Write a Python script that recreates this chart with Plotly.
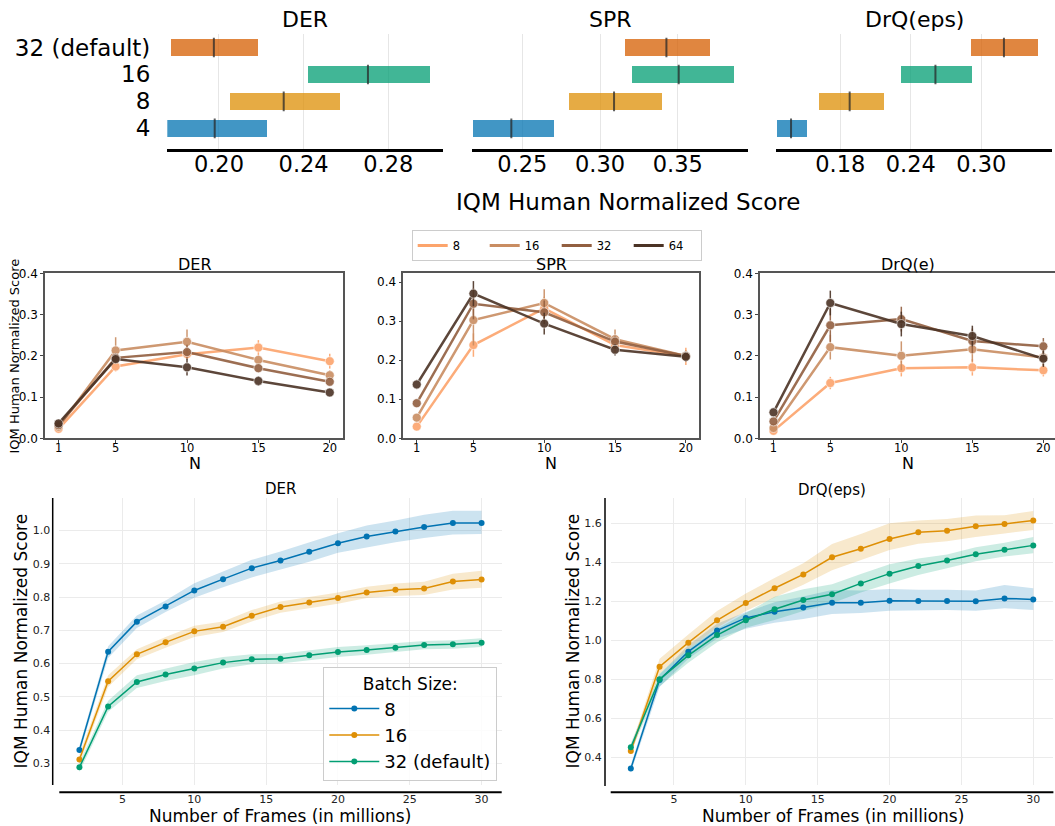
import plotly.graph_objects as go

W, H = 1055, 826

# ---------------- data ----------------
# Top row: IQM intervals per batch size
batch_labels = ["32 (default)", "16", "8", "4"]
bar_colors = ["rgba(213,94,0,0.75)", "rgba(2,158,115,0.75)", "rgba(222,143,5,0.75)", "rgba(1,115,178,0.75)"]
der_lo = [0.1776, 0.2420, 0.2052, 0.1757]
der_hi = [0.2184, 0.2997, 0.2572, 0.2230]
der_med = [0.1976, 0.2704, 0.2306, 0.1980]
spr_lo = [0.3161, 0.3206, 0.2801, 0.2182]
spr_hi = [0.3708, 0.3862, 0.3399, 0.2704]
spr_med = [0.3427, 0.3506, 0.3090, 0.2429]
drq_lo = [0.2912, 0.2318, 0.1619, 0.1261]
drq_hi = [0.3483, 0.2922, 0.2172, 0.1516]
drq_med = [0.3193, 0.2610, 0.1880, 0.1381]
top_ticks_der = [0.20, 0.24, 0.28]
top_ticks_spr = [0.25, 0.30, 0.35]
top_ticks_drq = [0.18, 0.24, 0.30]

# Middle row: score vs N
Ns = [1, 5, 10, 15, 20]
mid_names = ["8", "16", "32", "64"]
mid_colors = ["#FCA46C", "#C98D62", "#925F40", "#4B3325"]
der_mid = [
    [0.023, 0.174, 0.204, 0.220, 0.187],
    [0.028, 0.213, 0.234, 0.190, 0.153],
    [0.032, 0.195, 0.209, 0.170, 0.137],
    [0.036, 0.192, 0.172, 0.139, 0.111],
]
der_mid_err = [
    [0.006, 0.012, 0.012, 0.018, 0.018],
    [0.005, 0.032, 0.030, 0.012, 0.012],
    [0.005, 0.012, 0.018, 0.010, 0.010],
    [0.005, 0.010, 0.020, 0.012, 0.008],
]
spr_mid = [
    [0.030, 0.239, 0.333, 0.239, 0.210],
    [0.053, 0.303, 0.347, 0.254, 0.211],
    [0.090, 0.345, 0.323, 0.248, 0.211],
    [0.138, 0.371, 0.294, 0.227, 0.209],
]
spr_mid_err = [
    [0.006, 0.030, 0.030, 0.020, 0.022],
    [0.008, 0.065, 0.035, 0.025, 0.015],
    [0.010, 0.040, 0.030, 0.015, 0.012],
    [0.012, 0.032, 0.028, 0.015, 0.012],
]
drq_mid = [
    [0.018, 0.134, 0.170, 0.172, 0.165],
    [0.025, 0.221, 0.200, 0.216, 0.196],
    [0.041, 0.274, 0.289, 0.236, 0.223],
    [0.063, 0.328, 0.277, 0.248, 0.193],
]
drq_mid_err = [
    [0.004, 0.015, 0.020, 0.020, 0.015],
    [0.006, 0.030, 0.035, 0.030, 0.020],
    [0.008, 0.040, 0.030, 0.030, 0.020],
    [0.008, 0.030, 0.030, 0.025, 0.020],
]

# Bottom row: score vs frames
frames = [2, 4, 6, 8, 10, 12, 14, 16, 18, 20, 22, 24, 26, 28, 30]
bot_names = ["8", "16", "32 (default)"]
bot_colors = ["#0173B2", "#DE8F05", "#029E73"]
bot_fill = ["rgba(1,115,178,0.2)", "rgba(222,143,5,0.2)", "rgba(2,158,115,0.2)"]
der_bot = [
    [0.340, 0.636, 0.726, 0.772, 0.820, 0.854, 0.887, 0.910, 0.936, 0.962, 0.982, 0.997, 1.011, 1.023, 1.023],
    [0.312, 0.547, 0.628, 0.664, 0.697, 0.711, 0.744, 0.770, 0.784, 0.797, 0.814, 0.822, 0.826, 0.847, 0.853],
    [0.288, 0.471, 0.545, 0.567, 0.585, 0.603, 0.613, 0.615, 0.625, 0.635, 0.641, 0.648, 0.656, 0.658, 0.663],
]
der_bot_lo = [
    [0.328, 0.617, 0.707, 0.755, 0.798, 0.830, 0.859, 0.882, 0.906, 0.933, 0.950, 0.965, 0.978, 0.988, 0.990],
    [0.298, 0.530, 0.613, 0.648, 0.680, 0.695, 0.727, 0.753, 0.767, 0.780, 0.797, 0.803, 0.806, 0.823, 0.828],
    [0.274, 0.455, 0.527, 0.548, 0.565, 0.585, 0.598, 0.600, 0.610, 0.620, 0.627, 0.634, 0.643, 0.645, 0.650],
]
der_bot_hi = [
    [0.352, 0.652, 0.745, 0.790, 0.842, 0.877, 0.912, 0.937, 0.965, 0.992, 1.015, 1.030, 1.048, 1.060, 1.060],
    [0.327, 0.565, 0.643, 0.680, 0.714, 0.727, 0.761, 0.787, 0.800, 0.814, 0.831, 0.841, 0.846, 0.870, 0.879],
    [0.302, 0.488, 0.565, 0.585, 0.605, 0.620, 0.628, 0.630, 0.640, 0.650, 0.655, 0.662, 0.668, 0.670, 0.676],
]
drq_bot = [
    [0.342, 0.797, 0.942, 1.050, 1.115, 1.147, 1.168, 1.193, 1.193, 1.203, 1.202, 1.202, 1.200, 1.215, 1.210],
    [0.432, 0.865, 0.988, 1.103, 1.191, 1.267, 1.338, 1.426, 1.470, 1.520, 1.554, 1.562, 1.585, 1.597, 1.615],
    [0.451, 0.800, 0.923, 1.027, 1.103, 1.159, 1.207, 1.236, 1.292, 1.342, 1.381, 1.409, 1.441, 1.465, 1.487],
]
drq_bot_lo = [
    [0.322, 0.760, 0.905, 1.010, 1.060, 1.090, 1.110, 1.135, 1.140, 1.152, 1.155, 1.155, 1.152, 1.164, 1.156],
    [0.412, 0.830, 0.955, 1.065, 1.150, 1.220, 1.285, 1.360, 1.410, 1.463, 1.495, 1.508, 1.530, 1.548, 1.566],
    [0.430, 0.765, 0.885, 0.990, 1.065, 1.104, 1.150, 1.190, 1.245, 1.292, 1.335, 1.370, 1.405, 1.430, 1.446],
]
drq_bot_hi = [
    [0.362, 0.825, 0.975, 1.085, 1.145, 1.195, 1.225, 1.258, 1.255, 1.263, 1.260, 1.260, 1.255, 1.284, 1.267],
    [0.452, 0.905, 1.030, 1.150, 1.240, 1.320, 1.395, 1.494, 1.545, 1.600, 1.615, 1.622, 1.640, 1.642, 1.663],
    [0.472, 0.830, 0.955, 1.060, 1.140, 1.224, 1.262, 1.287, 1.340, 1.390, 1.420, 1.440, 1.478, 1.500, 1.530],
]

# ---------------- helpers ----------------
def xd(a, b):
    return [a / W, b / W]

def yd(top, bottom):
    return [1 - bottom / H, 1 - top / H]

def px(x):
    return x / W

def py(y):
    return 1 - y / H

FONT = "DejaVu Sans"
fig = go.Figure()

# ---------------- top row ----------------
top_sets = [
    (der_lo, der_hi, der_med, "x", "y"),
    (spr_lo, spr_hi, spr_med, "x2", "y2"),
    (drq_lo, drq_hi, drq_med, "x3", "y3"),
]
for lo, hi, med, xa, ya in top_sets:
    fig.add_trace(go.Bar(
        y=batch_labels, x=[h - l for l, h in zip(lo, hi)], base=lo,
        orientation="h", width=0.61, marker=dict(color=bar_colors, line=dict(width=0)),
        xaxis=xa, yaxis=ya, showlegend=False, hoverinfo="skip"))
    fig.add_trace(go.Scatter(
        y=batch_labels, x=med, mode="markers",
        marker=dict(symbol="line-ns", size=14, line=dict(width=2, color="rgba(40,40,40,0.75)")),
        xaxis=xa, yaxis=ya, showlegend=False, hoverinfo="skip"))

# ---------------- middle row ----------------
mid_sets = [(der_mid, der_mid_err, "x4", "y4"), (spr_mid, spr_mid_err, "x5", "y5"), (drq_mid, drq_mid_err, "x6", "y6")]
for k, (vals, errs, xa, ya) in enumerate(mid_sets):
    for i in range(4):
        fig.add_trace(go.Scatter(
            x=Ns, y=vals[i], mode="lines+markers", name=mid_names[i],
            line=dict(color=mid_colors[i], width=2.5),
            marker=dict(size=9, color=mid_colors[i], line=dict(color="rgba(255,255,255,0.6)", width=1)),
            error_y=dict(type="data", array=errs[i], color=mid_colors[i], thickness=1.5, width=0),
            opacity=0.9, xaxis=xa, yaxis=ya, showlegend=False))
# legend-only line entries for the middle row
for i in range(4):
    fig.add_trace(go.Scatter(
        x=[None], y=[None], mode="lines", name=mid_names[i],
        line=dict(color=mid_colors[i], width=3), xaxis="x4", yaxis="y4",
        legend="legend2", showlegend=True))

# ---------------- bottom row ----------------
bot_sets = [(der_bot, der_bot_lo, der_bot_hi, "x7", "y7"), (drq_bot, drq_bot_lo, drq_bot_hi, "x8", "y8")]
for k, (vals, los, his, xa, ya) in enumerate(bot_sets):
    for i in range(3):
        fig.add_trace(go.Scatter(
            x=frames + frames[::-1], y=his[i] + los[i][::-1], fill="toself",
            fillcolor=bot_fill[i], line=dict(width=0), mode="lines",
            xaxis=xa, yaxis=ya, showlegend=False, hoverinfo="skip"))
    for i in range(3):
        fig.add_trace(go.Scatter(
            x=frames, y=vals[i], mode="lines+markers", name=bot_names[i],
            line=dict(color=bot_colors[i], width=1.5),
            marker=dict(size=6, color=bot_colors[i]),
            xaxis=xa, yaxis=ya, legend="legend", showlegend=(k == 0)))

# ---------------- axes ----------------
top_y = yd(34, 148.5)
top_x_dom = [xd(167.3, 443.3), xd(471.7, 747.7), xd(776, 1052)]
top_x_rng = [[0.1756, 0.306], [0.2174, 0.395], [0.1253, 0.3602]]
top_ticks = [top_ticks_der, top_ticks_spr, top_ticks_drq]
lay = {}
for j in range(3):
    sx = "" if j == 0 else str(j + 1)
    lay["xaxis" + sx] = dict(
        domain=top_x_dom[j], range=top_x_rng[j], anchor="y" + sx, automargin=False,
        tickvals=top_ticks[j], ticktext=["%.2f" % t for t in top_ticks[j]],
        tickfont=dict(size=22.5, color="black"), ticks="", showline=True, linecolor="black",
        linewidth=2.5, showgrid=True, gridcolor="#e6e6e6", gridwidth=1, zeroline=False,
        ticklabelstandoff=-6)
    lay["yaxis" + sx] = dict(
        domain=top_y, anchor="x" + sx, type="category", categoryorder="array", automargin=False,
        categoryarray=["4", "8", "16", "32 (default)"], range=[-0.748, 3.5],
        tickmode="array", tickvals=["4", "8", "16", "32 (default)"],
        ticktext=["4", "8", "16", "32 (default)"],
        showgrid=False, ticks="", showline=False, zeroline=False,
        showticklabels=(j == 0), tickfont=dict(size=23, color="black"), ticklabelstandoff=16)

mid_y = yd(273.3, 438.3)
mid_x_dom = [xd(45, 343.3), xd(403.3, 699.3), xd(760, 1055)]
mid_x_rng = [[0.05, 20.95], [0.05, 20.95], [0.05, 20.82]]
mid_y_rng = [[0, 0.4], [0, 0.423], [0, 0.4]]
for j in range(3):
    sx = str(j + 4)
    lay["xaxis" + sx] = dict(
        domain=mid_x_dom[j], range=mid_x_rng[j], anchor="y" + sx, tickvals=Ns, automargin=False,
        tickfont=dict(size=11.5, color="black"), ticks="outside", ticklen=3, tickcolor="#444",
        ticklabelstandoff=-5,
        showline=True, mirror=True, linecolor="#555", linewidth=1.5, showgrid=False, zeroline=False)
    lay["yaxis" + sx] = dict(
        domain=mid_y, range=mid_y_rng[j], anchor="x" + sx, tickvals=[0, 0.1, 0.2, 0.3, 0.4],
        ticktext=["0.0", "0.1", "0.2", "0.3", "0.4"], automargin=False,
        tickfont=dict(size=12, color="black"), ticks="outside", ticklen=3, tickcolor="#444",
        showline=True, mirror=True, linecolor="#555", linewidth=1.5, showgrid=False, zeroline=False)

bot_y = yd(498, 785)
bot_x_dom = [xd(59.3, 501.7), xd(610.7, 1053.4)]
bot_y_rng = [[0.235, 1.098], [0.258, 1.73]]
bot_y_ticks = [[0.3, 0.4, 0.5, 0.6, 0.7, 0.8, 0.9, 1.0], [0.4, 0.6, 0.8, 1.0, 1.2, 1.4, 1.6]]
for j in range(2):
    sx = str(j + 7)
    lay["xaxis" + sx] = dict(
        domain=bot_x_dom[j], range=[0.6, 31.4], anchor="y" + sx, tickvals=[5, 10, 15, 20, 25, 30],
        tickfont=dict(size=11, color="#222"), ticks="", showline=False, showgrid=True, automargin=False,
        gridcolor="#ebebeb", gridwidth=1, zeroline=False, ticklabelstandoff=6)
    lay["yaxis" + sx] = dict(
        domain=bot_y, range=bot_y_rng[j], anchor="x" + sx, tickvals=bot_y_ticks[j],
        ticktext=["%.1f" % t for t in bot_y_ticks[j]], automargin=False,
        tickfont=dict(size=11, color="#222"), ticks="", showline=False, showgrid=True,
        gridcolor="#ebebeb", gridwidth=1, zeroline=False, ticklabelstandoff=8)

# ---------------- annotations ----------------
def ann(text, x, y, size, angle=0, color="black"):
    return dict(text=text, x=px(x), y=py(y), xref="paper", yref="paper", showarrow=False,
                xanchor="center", yanchor="middle", textangle=angle,
                font=dict(size=size, color=color, family=FONT))

annotations = [
    ann("DER", 305, 19, 22), ann("SPR", 610, 19, 22), ann("DrQ(eps)", 914, 19, 22),
    ann("IQM Human Normalized Score", 628, 202, 23),
    ann("DER", 195, 264, 16), ann("SPR", 551.5, 264, 16), ann("DrQ(e)", 908, 264, 16),
    ann("N", 195, 463, 16), ann("N", 551, 463, 16), ann("N", 908, 463, 16),
    ann("IQM Human Normalized Score", 13.5, 356, 13, angle=-90),
    ann("DER", 280, 489, 15), ann("DrQ(eps)", 832, 490, 15),
    ann("Number of Frames (in millions)", 280, 816, 17),
    ann("Number of Frames (in millions)", 833, 816, 17),
    ann("IQM Human Normalized Score", 20, 641.5, 17, angle=-90),
    ann("IQM Human Normalized Score", 572, 641.5, 17, angle=-90),
]

def seg(x0, y0, x1, y1, w, color="black"):
    return dict(type="line", xref="paper", yref="paper", x0=px(x0), y0=py(y0), x1=px(x1), y1=py(y1),
                line=dict(color=color, width=w))

shapes = [
    seg(52.7, 498, 52.7, 785, 1.5), seg(59.3, 792.3, 501.7, 792.3, 2),
    seg(605, 498, 605, 786, 1.5), seg(610.7, 792.3, 1053.4, 792.3, 2),
]

fig.update_layout(
    width=W, height=H, margin=dict(l=0, r=0, t=0, b=0, autoexpand=False),
    paper_bgcolor="white", plot_bgcolor="white",
    font=dict(family=FONT, color="black"),
    annotations=annotations, shapes=shapes, bargap=0,
    legend=dict(x=px(323.3), y=py(667.3), xanchor="left", yanchor="top",
                title=dict(text="Batch Size:", side="top center", font=dict(size=17)),
                font=dict(size=18), bordercolor="#cccccc", borderwidth=1, itemwidth=50,
                bgcolor="rgba(255,255,255,0.85)", tracegroupgap=0),
    legend2=dict(x=px(411.7), y=py(230), xanchor="left", yanchor="top", orientation="h",
                 entrywidth=27, entrywidthmode="pixels", font=dict(size=11.5),
                 bordercolor="#cccccc", borderwidth=1, bgcolor="white"),
    **lay,
)

fig.write_html("out.html")
